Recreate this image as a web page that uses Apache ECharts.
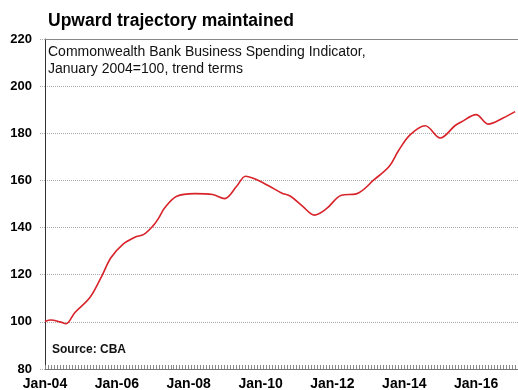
<!DOCTYPE html>
<html>
<head>
<meta charset="utf-8">
<script src="https://cdn.jsdelivr.net/npm/echarts@6/dist/echarts.min.js"></script>
<style>
html,body{margin:0;padding:0;background:#fff;overflow:hidden;}
#chart{width:518px;height:390px;}
</style>
</head>
<body>
<div id="chart"></div>
<script>
// Data
const dates = ['2004-01','2004-03','2004-06','2004-08','2004-11','2005-04','2005-08','2005-11','2006-03','2006-07','2006-10','2007-01','2007-03','2007-05','2007-09','2008-03','2008-09','2009-01','2009-05','2009-08','2009-11','2010-04','2010-08','2010-11','2011-03','2011-07','2011-11','2012-04','2012-09','2013-03','2013-08','2013-11','2014-03','2014-08','2015-01','2015-06','2015-08','2016-01','2016-05','2016-10','2017-02'];
const values = [100.2,100.8,100.0,99.2,104.0,110.3,119.5,127.2,132.9,135.9,137.1,140.6,144.1,148.4,153.3,154.4,154.0,152.3,157.5,161.8,160.7,157.5,154.7,153.3,149.1,145.3,148.0,153.7,154.3,160.4,166.0,172.5,179.4,183.2,178.0,183.3,184.8,187.9,183.9,186.5,189.2];
const xTickLabels = ['Jan-04','Jan-06','Jan-08','Jan-10','Jan-12','Jan-14','Jan-16'];
const yTicks = [80,100,120,140,160,180,200,220];

const titleText = 'Upward trajectory maintained';
const subtitleLines = ['Commonwealth Bank Business Spending Indicator,','January 2004=100, trend terms'];
const sourceText = 'Source: CBA';

function monthIndex(s){ const p = s.split('-').map(Number); return (p[0]-2004)*12 + (p[1]-1); }
const seriesData = dates.map((d,i)=>[monthIndex(d), values[i]]);

const FONT = '"Liberation Sans", Arial, sans-serif';
const chart = echarts.init(document.getElementById('chart'), null, {renderer:'canvas'});
chart.setOption({
  animation:false,
  backgroundColor:'#fff',
  title:{
    text:titleText, left:43, top:7,
    textStyle:{fontFamily:FONT, fontWeight:'bold', fontSize:17.5, color:'#000'}
  },
  grid:{left:45, width:503, top:39, bottom:21, containLabel:false, outerBoundsMode:'none'},
  xAxis:[{
    type:'value', min:0, max:168, interval:24, position:'bottom',
    axisLine:{show:true, lineStyle:{color:'#777', width:1}},
    axisTick:{show:true, inside:true, length:4, lineStyle:{color:'#888'}},
    minorTick:{show:true, splitNumber:24, length:4, lineStyle:{color:'#888'}},
    splitLine:{show:false},
    axisLabel:{
      margin:8, color:'#000', fontFamily:FONT, fontWeight:'bold', fontSize:14,
      formatter:function(v){ const i = Math.round(v/24); return (v%24===0 && xTickLabels[i]) ? xTickLabels[i] : ''; }
    }
  },{
    type:'value', min:0, max:168, position:'top',
    axisLine:{show:true, onZero:false, lineStyle:{color:'#888', width:1}},
    axisTick:{show:false}, axisLabel:{show:false}, splitLine:{show:false}
  }],
  yAxis:{
    type:'value', min:yTicks[0], max:yTicks[yTicks.length-1], interval:20,
    axisLine:{show:true, lineStyle:{color:'#333', width:1}},
    axisTick:{show:true, length:6, lineStyle:{color:'#aaa', type:'dotted'}},
    splitLine:{show:true, lineStyle:{color:'#aaa', type:'dotted', width:1}},
    axisLabel:{margin:13, color:'#000', fontFamily:FONT, fontWeight:'bold', fontSize:13}
  },
  graphic:[
    {type:'text', left:48, top:45, style:{text:subtitleLines[0], font:'14px '+FONT, fill:'#111'}},
    {type:'text', left:48, top:62, style:{text:subtitleLines[1], font:'14px '+FONT, fill:'#111'}},
    {type:'text', left:52, top:344, style:{text:sourceText, font:'bold 12px '+FONT, fill:'#111'}}
  ],
  series:[{
    type:'line', data:seriesData, smooth:0.35, showSymbol:false, symbol:'none',
    lineStyle:{color:'#d8232a', width:1.6}, z:5
  }]
});
</script>
</body>
</html>
